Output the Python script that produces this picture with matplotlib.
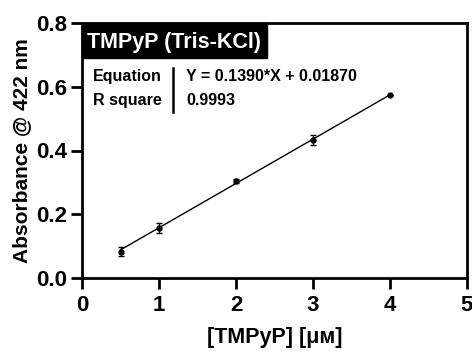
import matplotlib.pyplot as plt
from matplotlib.patches import Rectangle
import numpy as np

# TMPyP calibration in Tris-KCl buffer
conc = [0.5, 1.0, 2.0, 3.0, 4.0]
absorb = [0.082, 0.156, 0.305, 0.433, 0.573]
absorb_err = [0.014, 0.015, 0.006, 0.017, 0.0]

slope = 0.1390
intercept = 0.01870
r_square = 0.9993

plt.rcParams['font.family'] = ['Liberation Sans', 'DejaVu Sans']
plt.rcParams['font.weight'] = 'bold'

fig = plt.figure(figsize=(4.72, 3.51), dpi=100)
ax = fig.add_axes([82 / 472, 1 - 278 / 351, 385 / 472, 255 / 351])

# linear fit over the measured range
xf = np.array([conc[0], conc[-1]])
ax.plot(xf, slope * xf + intercept, color='k', lw=1.0, zorder=2)
ax.errorbar(conc, absorb, yerr=absorb_err, fmt='o', ms=3.5, color='k',
            ecolor='k', elinewidth=1.0, capsize=2.5, capthick=1.0, zorder=3)

ax.set_xlim(0, 5)
ax.set_ylim(0, 0.8)
ax.set_xticks([0, 1, 2, 3, 4, 5])
ax.set_yticks([0.0, 0.2, 0.4, 0.6, 0.8])
ax.set_yticklabels(['0.0', '0.2', '0.4', '0.6', '0.8'])
for s in ax.spines.values():
    s.set_linewidth(2.0)
ax.tick_params(direction='out', width=2.0, length=8, labelsize=16, pad=3)
ax.tick_params(axis='x', pad=4)
for lab in ax.get_xticklabels() + ax.get_yticklabels():
    lab.set_fontweight('bold')

ax.set_xlabel('[TMPyP] [\u03bc\u043c]', fontsize=15.5, fontweight='bold', labelpad=8)
ax.set_ylabel('Absorbance @ 422 nm', fontsize=15, fontweight='bold', labelpad=3)

# title box in the upper left corner
ax.add_patch(Rectangle((0.0, 1.0 - 0.137), 0.4805, 0.137, transform=ax.transAxes,
                       fc='k', ec='k', zorder=4, clip_on=False))
ax.text(0.24, 0.925, 'TMPyP (Tris-KCl)', transform=ax.transAxes, ha='center', va='center',
        color='white', fontsize=15.5, fontweight='bold', zorder=5)

# fit summary
ax.text(0.029, 0.792, 'Equation', transform=ax.transAxes, ha='left', va='center',
        fontsize=11.5, fontweight='bold')
ax.text(0.029, 0.698, 'R square', transform=ax.transAxes, ha='left', va='center',
        fontsize=11.5, fontweight='bold')
ax.text(0.270, 0.792, 'Y = %.4f*X + %.5f' % (slope, intercept), transform=ax.transAxes,
        ha='left', va='center', fontsize=11.5, fontweight='bold')
ax.text(0.270, 0.698, '%.4f' % r_square, transform=ax.transAxes,
        ha='left', va='center', fontsize=11.5, fontweight='bold')
ax.plot([0.236, 0.236], [0.651, 0.824], transform=ax.transAxes, color='k', lw=1.8,
        clip_on=False)

fig.savefig('out.png', dpi=100)
